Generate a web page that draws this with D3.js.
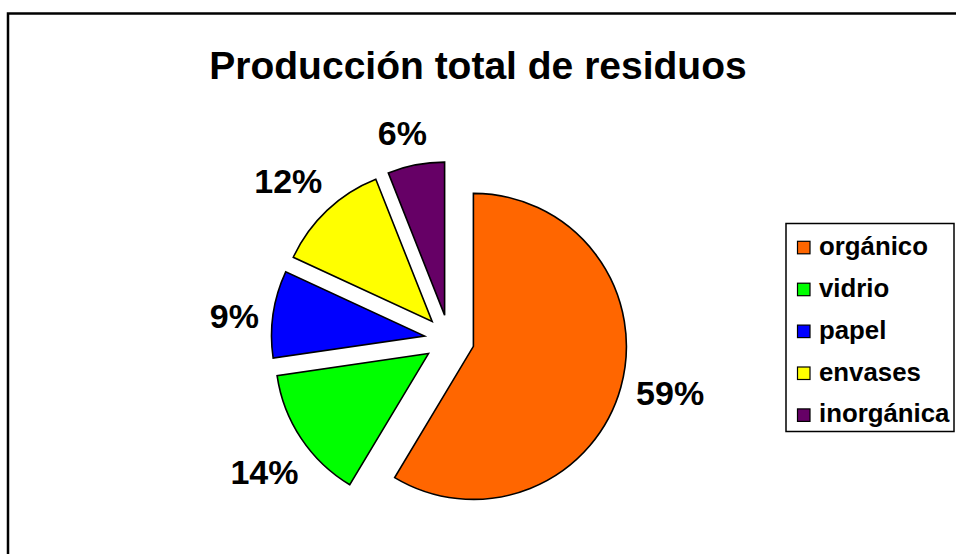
<!DOCTYPE html>
<html><head><meta charset="utf-8">
<script src="https://cdn.jsdelivr.net/npm/d3@7"></script>
<style>
html,body{margin:0;padding:0;background:#fff;}
text{font-family:"Liberation Sans",Arial,sans-serif;font-weight:bold;}
</style></head>
<body>
<svg id="chart" width="956" height="554"></svg>
<script>
const title = "Producción total de residuos";
const categories = ["orgánico","vidrio","papel","envases","inorgánica"];
const values = [58.6, 14.1, 9.2, 12.1, 6.0];
const colors = ["#FF6600","#00FF00","#0000FF","#FFFF00","#660066"];

const svg = d3.select("#chart");
svg.append("rect").attr("width",956).attr("height",554).attr("fill","#fff");
// outer frame
svg.append("rect").attr("x",8).attr("y",13.5).attr("width",980).attr("height",580)
  .attr("fill","none").attr("stroke","#000").attr("stroke-width",2.5);

svg.append("text").attr("x",478).attr("y",78.5).attr("text-anchor","middle")
  .attr("font-size",39).attr("fill","#000").text(title);

const cx = 449.3, cy = 339.7, r = 153, explode = 25;
const pie = d3.pie().sort(null).value(d=>d);
const arcs = pie(values);
const arc = d3.arc().innerRadius(0).outerRadius(r);
const total = d3.sum(values);
const labelShift = -2 * Math.PI / 180;

const g = svg.append("g").attr("transform",`translate(${cx},${cy})`);
arcs.forEach((a,i)=>{
  const m = (a.startAngle+a.endAngle)/2;
  const dx = Math.sin(m), dy = -Math.cos(m);
  g.append("path").attr("d",arc(a))
    .attr("transform",`translate(${dx*explode},${dy*explode})`)
    .attr("fill",colors[i]).attr("stroke","#000").attr("stroke-width",1.6)
    .attr("stroke-linejoin","miter");
});
arcs.forEach((a,i)=>{
  const m = (a.startAngle+a.endAngle)/2 + labelShift;
  const dx = Math.sin(m), dy = -Math.cos(m);
  const t = g.append("text").attr("font-size",34).attr("text-anchor","middle").attr("fill","#000")
    .text(Math.round(values[i]/total*100)+"%");
  const w = t.node().getComputedTextLength();
  const dist = r + explode + 12 + Math.abs(dx)*w/2 + Math.abs(dy)*17;
  t.attr("x",dx*dist).attr("y",dy*dist+12);
});

// legend
const lg = svg.append("g");
lg.append("rect").attr("x",786).attr("y",223.5).attr("width",168).attr("height",208)
  .attr("fill","#fff").attr("stroke","#000").attr("stroke-width",1.5);
categories.forEach((c,i)=>{
  const by = 254.8 + i*41.9;
  lg.append("rect").attr("x",797.5).attr("y",by-13.5).attr("width",12.5).attr("height",12.5)
    .attr("fill",colors[i]).attr("stroke","#000").attr("stroke-width",1.2);
  lg.append("text").attr("x",819).attr("y",by).attr("font-size",25.8).attr("fill","#000").text(c);
});
</script>
</body></html>
